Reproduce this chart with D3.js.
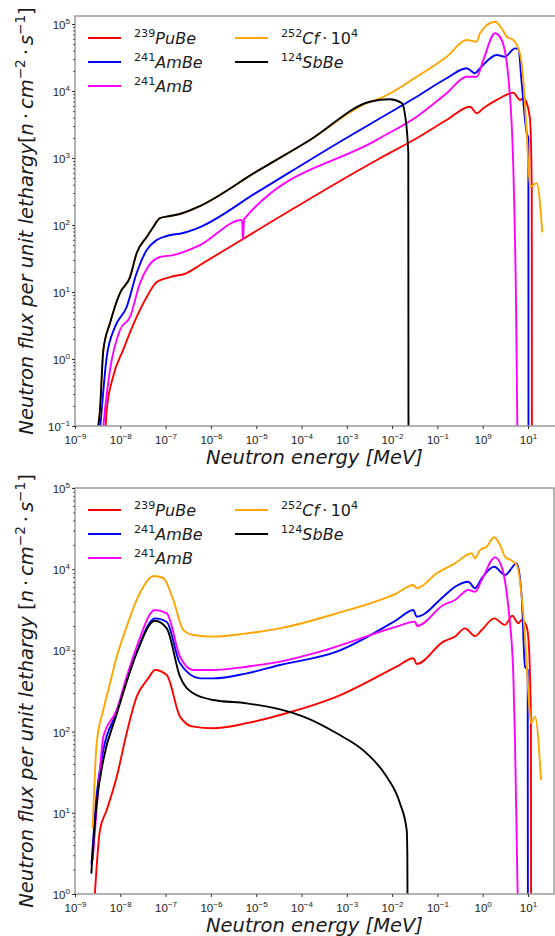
<!DOCTYPE html>
<html>
<head>
<meta charset="utf-8">
<script src="https://cdn.jsdelivr.net/npm/d3@7"></script>
<style>
  body { margin: 0; background: #fff; }
  svg { display: block; font-family: "DejaVu Sans", sans-serif; }
</style>
</head>
<body>
<div id="chart"></div>
<script>
// ---- data: [energy MeV, flux] ----

// upper panel
const topPuBe = [[4.59e-9,0.062],[5.01e-9,0.173],[6.90e-9,0.538],[1.15e-8,1.36],[2.30e-8,4.24],[3.83e-8,8.41],[6.37e-8,14.1],[1.25e-7,16.7],[2.92e-7,19.2],[5.74e-7,25.3],[5.41e-3,991],[3.49e-2,1970],[0.160,3690],[0.525,5830],[0.738,4650],[1.03,5520],[2.04,7350],[4.73,9440],[6.65,7350],[7.87,7780],[9.35,6620],[11.1,3690],[12.1,373],[12.2,0.062]];
const topAmBe = [[3.39e-9,0.062],[3.88e-9,0.173],[5.01e-9,1.07],[7.64e-9,3.01],[1.38e-8,5.97],[2.30e-8,19.2],[3.83e-8,42.4],[6.37e-8,59.7],[1.06e-7,68.5],[2.42e-7,76.0],[5.74e-7,93.3],[9.9e-6,301],[8.24e-4,1860],[5.41e-3,3920],[3.49e-2,8220],[0.160,15500],[0.444,21800],[0.676,18400],[0.871,21800],[2.04,34400],[3.10,32500],[5.16,43300],[6.11,42400],[7.26,13200],[9.35,2360],[10.2,1990],[10.25,0.062]];
const topAmB = [[3.94e-9,0.062],[4.59e-9,0.173],[5.93e-9,0.686],[9.84e-9,2.71],[1.64e-8,4.24],[2.72e-8,13.6],[4.08e-8,23.6],[7.51e-8,33.3],[1.46e-7,35.6],[5.74e-7,50.2],[4.86e-6,119],[5.12e-6,60],[5.40e-6,122],[4.57e-3,1860],[3.49e-2,4130],[0.160,9250],[0.444,16300],[0.738,16300],[1.03,29000],[1.87,72600],[2.62,57700],[3.67,16300],[4.73,741],[5.43,7.6],[5.86,0.062]];
const topCf = [[2.84e-9,0.062],[3.56e-9,0.173],[4.22e-9,1.36],[5.93e-9,3.44],[9.84e-9,9.66],[1.64e-8,16.7],[2.30e-8,38.2],[3.83e-8,66.2],[5.35e-8,93.3],[7.51e-8,127],[1.25e-7,136],[2.42e-7,151],[5.74e-7,192],[9.9e-6,620],[1.54e-4,1860],[3.25e-3,6920],[5.41e-3,7780],[3.49e-2,16300],[0.160,32500],[0.444,57700],[0.738,54500],[0.871,72600],[1.87,108000],[2.62,86300],[3.39,64600],[4.73,57700],[6.65,36600],[7.87,14600],[9.35,2360],[11.1,373],[15.6,419],[20.7,77.8]];
const topSbBe = [[2.84e-9,0.062],[3.56e-9,0.173],[4.22e-9,1.36],[5.93e-9,3.44],[9.84e-9,9.66],[1.64e-8,16.7],[2.30e-8,38.2],[3.83e-8,66.2],[5.35e-8,93.3],[7.51e-8,127],[1.25e-7,136],[2.42e-7,151],[5.74e-7,192],[9.9e-6,620],[1.54e-4,1860],[3.25e-3,6920],[9.0e-3,7520],[1.63e-2,6620],[1.93e-2,4390],[2.28e-2,1190],[2.30e-2,0.062]];

// lower panel
const botPuBe = [[2.69e-9,0.84],[3.56e-9,6.14],[5.01e-9,10.8],[8.34e-9,27.8],[1.38e-8,95.3],[2.30e-8,269],[4.15e-8,453],[5.83e-8,574],[1.06e-7,498],[2.08e-7,153],[4.08e-7,115],[1.13e-6,110],[6.17e-6,127],[3.35e-5,160],[5.98e-4,269],[1.26e-2,630],[2.94e-2,800],[3.49e-2,680],[0.135,1280],[0.245,1480],[0.406,1870],[0.676,1500],[0.951,1780],[1.80,2480],[3.10,2060],[4.50,2670],[6.11,2160],[7.26,2370],[9.35,1960],[10.5,1110],[11.6,127],[11.7,0.8]];
const botAmBe = [[2.31e-9,2.28],[3.01e-9,16.6],[4.22e-9,59.3],[8.34e-9,174],[1.38e-8,430],[2.30e-8,955],[5.83e-8,2480],[1.06e-7,2240],[2.08e-7,693],[5.74e-7,453],[1.13e-6,453],[6.17e-6,522],[3.35e-5,661],[5.98e-4,964],[1.26e-2,2370],[2.94e-2,3150],[3.49e-2,2600],[0.135,4590],[0.245,6090],[0.481,7020],[0.676,5820],[0.951,7730],[1.80,10700],[3.10,8490],[5.64,11800],[7.26,4590],[8.59,630],[9.84,574],[9.95,0.8]];
const botAmB = [[2.46e-9,2.62],[3.56e-9,33.7],[4.22e-9,86.5],[8.34e-9,185],[1.38e-8,474],[2.30e-8,1110],[5.83e-8,3150],[1.06e-7,2860],[2.08e-7,836],[4.08e-7,574],[1.13e-6,574],[6.17e-6,630],[3.35e-5,726],[2.56e-4,964],[1.26e-2,1960],[3.21e-2,2260],[3.55e-2,2000],[0.135,3620],[0.245,4180],[0.481,5540],[0.676,5280],[0.951,7360],[1.87,14000],[2.62,10700],[3.67,3450],[4.73,522],[5.16,78.8],[5.93,0.9]];
const botCf = [[2.46e-9,6.44],[3.01e-9,71.8],[4.22e-9,185],[5.93e-9,393],[8.34e-9,836],[1.38e-8,1960],[2.30e-8,4180],[3.22e-8,6090],[5.35e-8,8240],[8.89e-8,7790],[1.48e-7,4180],[2.46e-7,1780],[4.08e-7,1550],[1.13e-6,1480],[6.17e-6,1620],[3.35e-5,1870],[5.98e-4,2860],[1.26e-2,5050],[2.94e-2,6390],[3.49e-2,5820],[9.66e-2,8900],[0.245,11800],[0.571,15700],[0.676,13600],[0.871,17200],[1.22,18900],[1.80,24700],[2.41,19900],[3.10,14300],[4.73,12400],[5.64,11300],[7.26,4590],[8.59,1480],[10.2,296],[11.6,127],[14.3,153],[19.4,25.3]];
const botSbBe = [[2.29e-9,1.78],[3.01e-9,13.2],[4.22e-9,44.7],[8.34e-9,165],[1.38e-8,410],[2.30e-8,929],[5.83e-8,2320],[1.06e-7,1870],[2.08e-7,474],[4.08e-7,296],[1.13e-6,245],[6.17e-6,223],[3.35e-5,188],[1.10e-4,153],[5.98e-4,95.3],[2.75e-3,54.0],[7.60e-3,27.8],[1.49e-2,13.1],[2.10e-2,6.14],[2.17e-2,3.02],[2.19e-2,0.8]];

// ticks
const xTickValues = [1e-9,1e-8,1e-7,1e-6,1e-5,1e-4,1e-3,1e-2,1e-1,1,10];
const topXTickExps = ["\u22129","\u22128","\u22127","\u22126","\u22125","\u22124","\u22123","\u22122","\u22121","9","1"];
const botXTickExps = ["\u22129","\u22128","\u22127","\u22126","\u22125","\u22124","\u22123","\u22122","\u22121","0","1"];
const topYTickExps = ["\u22121","0","1","2","3","4","5"];
const botYTickExps = ["0","1","2","3","4","5"];

const seriesNames = ["PuBe", "AmBe", "AmB", "Cf", "SbBe"];
const seriesColors = ["#ff0000", "#0000ff", "#ff00ff", "#ffa500", "#000000"];
const legendLabels = [
    [{t: "239", sup: true}, {t: "PuBe", it: true}],
    [{t: "241", sup: true}, {t: "AmBe", it: true}],
    [{t: "241", sup: true}, {t: "AmB", it: true}],
    [{t: "252", sup: true}, {t: "Cf", it: true}, {t: "\u2009\u00b7\u200910"}, {t: "4", sup: true}],
    [{t: "124", sup: true}, {t: "SbBe", it: true}]
];

const width = 555, height = 936;
const svg = d3.select("#chart").append("svg")
    .attr("width", width)
    .attr("height", height);

// text with superscripts
function rich(sel, parts, size) {
    let cur = 0;
    parts.forEach(p => {
        const off = p.sup ? -size * 0.42 : 0;
        sel.append("tspan")
            .attr("dy", off - cur)
            .attr("font-size", p.sup ? size * 0.7 : size)
            .attr("font-style", p.it ? "italic" : "normal")
            .text(p.t);
        cur = off;
    });
}

function yLabelParts(gap) {
    return [
        {t: "Neutron flux per unit lethargy" + gap, it: true},
        {t: "["}, {t: "n", it: true}, {t: "\u2009\u00b7\u2009"}, {t: "cm", it: true},
        {t: "\u22122", sup: true}, {t: "\u2009\u00b7\u2009"}, {t: "s", it: true},
        {t: "\u22121", sup: true}, {t: "]"}
    ];
}

function drawPanel(p) {
    const x = d3.scaleLog().domain([1e-9, 10]).range([75, 528]);
    const y = d3.scaleLog().domain(p.yDomain).range(p.yRange);
    const g = svg.append("g");

    const clipId = "clip-" + p.id;
    svg.append("defs").append("clipPath").attr("id", clipId)
        .append("rect")
        .attr("x", p.x0).attr("y", p.y0)
        .attr("width", p.x1 - p.x0).attr("height", p.y1 - p.y0);

    // curves
    const line = d3.line()
        .x(d => x(d[0]))
        .y(d => y(d[1]))
        .curve(d3.curveMonotoneX);

    g.append("g").attr("clip-path", `url(#${clipId})`)
        .selectAll("path")
        .data(p.series)
        .join("path")
        .attr("d", d => line(d))
        .attr("fill", "none")
        .attr("stroke", (d, i) => seriesColors[i])
        .attr("stroke-width", 1.9)
        .attr("stroke-linejoin", "round");

    // spines
    g.append("rect")
        .attr("x", p.x0).attr("y", p.y0)
        .attr("width", p.x1 - p.x0).attr("height", p.y1 - p.y0)
        .attr("fill", "none")
        .attr("stroke", "#9a9a9a")
        .attr("stroke-width", 1.5);

    // x axis
    const xAxis = g.append("g")
        .attr("transform", `translate(0,${p.y1})`)
        .call(d3.axisBottom(x).tickValues(xTickValues).tickSize(3).tickFormat(""));
    xAxis.select(".domain").remove();
    xAxis.selectAll(".tick line").attr("stroke", "#333");
    xAxis.selectAll(".tick text").remove();
    xAxis.selectAll(".tick").each(function(d, i) {
        const t = d3.select(this).append("text")
            .attr("x", 0).attr("y", 18)
            .attr("text-anchor", "middle")
            .attr("fill", "#222");
        rich(t, [{t: "10"}, {t: p.xExps[i], sup: true}], 11.5);
    });

    // y axis, major + minor
    const yMajor = p.yExps.map(e => Math.pow(10, +e.replace("\u2212", "-")));
    const yMinor = [];
    yMajor.slice(0, -1).forEach(v => {
        for (let m = 2; m < 10; m++) yMinor.push(v * m);
    });
    const yAxisMinor = g.append("g")
        .attr("transform", `translate(${p.x0},0)`)
        .call(d3.axisLeft(y).tickValues(yMinor).tickSize(2).tickFormat(""));
    yAxisMinor.select(".domain").remove();
    yAxisMinor.selectAll(".tick line").attr("stroke", "#555");

    const yAxis = g.append("g")
        .attr("transform", `translate(${p.x0},0)`)
        .call(d3.axisLeft(y).tickValues(yMajor).tickSize(3).tickFormat(""));
    yAxis.select(".domain").remove();
    yAxis.selectAll(".tick line").attr("stroke", "#333");
    yAxis.selectAll(".tick text").remove();
    yAxis.selectAll(".tick").each(function(d, i) {
        const t = d3.select(this).append("text")
            .attr("x", -5).attr("y", 4.5)
            .attr("text-anchor", "end")
            .attr("fill", "#222");
        rich(t, [{t: "10"}, {t: p.yExps[i], sup: true}], 11.5);
    });

    // axis titles
    const xt = g.append("text")
        .attr("x", (p.x0 + 554) / 2)
        .attr("y", p.y1 + 38)
        .attr("text-anchor", "middle")
        .attr("fill", "#1a1a1a");
    rich(xt, [{t: "Neutron energy [MeV]", it: true}], 19.5);

    const yt = g.append("text")
        .attr("transform", `translate(33,${(p.y0 + p.y1) / 2}) rotate(-90)`)
        .attr("text-anchor", "middle")
        .attr("fill", "#1a1a1a");
    rich(yt, p.yLabel, 19.5);

    // legend
    const legend = g.append("g").attr("transform", `translate(0,${p.y0 + 22})`);
    const slots = [[0, 0], [0, 1], [0, 2], [1, 0], [1, 1]];
    seriesNames.forEach((name, i) => {
        const col = slots[i][0], row = slots[i][1];
        const lx = col ? 235 : 88;
        const item = legend.append("g").attr("transform", `translate(${lx},${row * 24})`);
        item.append("line")
            .attr("x1", 0).attr("x2", 33)
            .attr("stroke", seriesColors[i])
            .attr("stroke-width", 1.9);
        const t = item.append("text")
            .attr("x", 46).attr("y", 6)
            .attr("fill", "#1a1a1a");
        rich(t, legendLabels[i], 16);
    });
}

drawPanel({
    id: "top",
    x0: 75, x1: 556, y0: 16, y1: 426,
    yDomain: [0.1, 1e5], yRange: [426, 24],
    xExps: topXTickExps, yExps: topYTickExps,
    yLabel: yLabelParts(""),
    series: [topPuBe, topAmBe, topAmB, topCf, topSbBe]
});

drawPanel({
    id: "bot",
    x0: 75, x1: 554, y0: 488, y1: 894,
    yDomain: [1, 1e5], yRange: [894, 488],
    xExps: botXTickExps, yExps: botYTickExps,
    yLabel: yLabelParts(" "),
    series: [botPuBe, botAmBe, botAmB, botCf, botSbBe]
});
</script>
</body>
</html>
